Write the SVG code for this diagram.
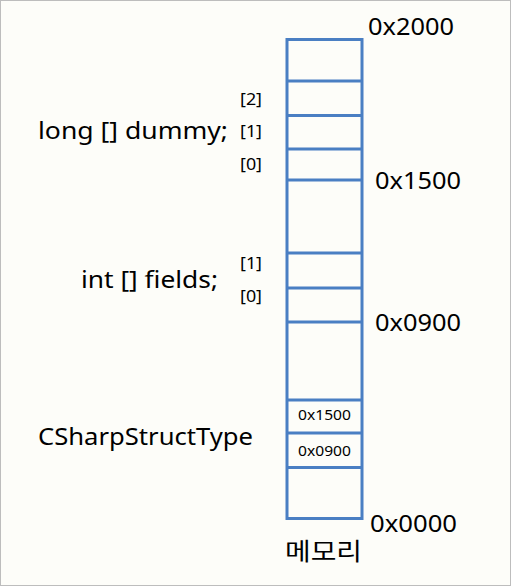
<svg xmlns="http://www.w3.org/2000/svg" width="511" height="586" viewBox="0 0 511 586">
<style>
.t{font-family:"Noto Sans","Noto Sans CJK KR",sans-serif;fill:#000}
.big{font-size:24px}
.idx{font-size:17px}
.small{font-size:15px}
.ln{stroke:#4a7fc3;stroke-width:3;fill:none}
</style>
<rect x="0.5" y="0.5" width="510" height="585" fill="#fdfdf9" stroke="#bdbdbd" stroke-width="1"/>
<g id="memory">
<rect class="ln" x="287" y="39.5" width="75" height="479"/>
<line class="ln" x1="287" y1="81" x2="362" y2="81"/>
<line class="ln" x1="287" y1="115.5" x2="362" y2="115.5"/>
<line class="ln" x1="287" y1="149" x2="362" y2="149"/>
<line class="ln" x1="287" y1="180" x2="362" y2="180"/>
<line class="ln" x1="287" y1="253" x2="362" y2="253"/>
<line class="ln" x1="287" y1="288" x2="362" y2="288"/>
<line class="ln" x1="287" y1="322" x2="362" y2="322"/>
<line class="ln" x1="287" y1="400" x2="362" y2="400"/>
<line class="ln" x1="287" y1="433" x2="362" y2="433"/>
<line class="ln" x1="287" y1="467.5" x2="362" y2="467.5"/>
<text class="t small" x="298" y="420" textLength="53" lengthAdjust="spacingAndGlyphs">0x1500</text>
<text class="t small" x="298" y="456" textLength="53" lengthAdjust="spacingAndGlyphs">0x0900</text>
<text class="t big" x="285" y="560" textLength="77" lengthAdjust="spacingAndGlyphs">메모리</text>
</g>
<g id="addresses">
<text class="t big" x="368" y="35" textLength="86" lengthAdjust="spacingAndGlyphs">0x2000</text>
<text class="t big" x="375" y="189" textLength="86" lengthAdjust="spacingAndGlyphs">0x1500</text>
<text class="t big" x="375" y="331" textLength="86" lengthAdjust="spacingAndGlyphs">0x0900</text>
<text class="t big" x="370" y="532" textLength="87" lengthAdjust="spacingAndGlyphs">0x0000</text>
</g>
<g id="dummy">
<text class="t big" x="38" y="139" textLength="190" lengthAdjust="spacingAndGlyphs">long [] dummy;</text>
<text class="t idx" x="240" y="105" textLength="22" lengthAdjust="spacingAndGlyphs">[2]</text>
<text class="t idx" x="240" y="137" textLength="22" lengthAdjust="spacingAndGlyphs">[1]</text>
<text class="t idx" x="240" y="170" textLength="22" lengthAdjust="spacingAndGlyphs">[0]</text>
</g>
<g id="fields">
<text class="t big" x="81" y="288" textLength="137" lengthAdjust="spacingAndGlyphs">int [] fields;</text>
<text class="t idx" x="240" y="269" textLength="22" lengthAdjust="spacingAndGlyphs">[1]</text>
<text class="t idx" x="240" y="302" textLength="22" lengthAdjust="spacingAndGlyphs">[0]</text>
</g>
<g id="struct">
<text class="t big" x="38" y="445" textLength="215" lengthAdjust="spacingAndGlyphs">CSharpStructType</text>
</g>
<g id="connectors"></g>
</svg>
